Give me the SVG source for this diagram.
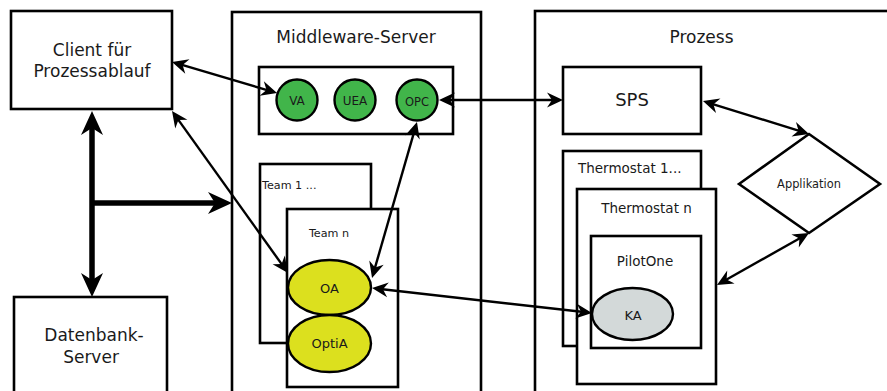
<svg xmlns="http://www.w3.org/2000/svg" width="887" height="391" viewBox="0 0 887 391">
  <style>
    .box { fill: #ffffff; stroke: #000000; stroke-width: 2.6; }
    .agent { fill: #41b54a; stroke: #000000; stroke-width: 2.4; }
    .team-agent { fill: #dce01e; stroke: #000000; stroke-width: 2.4; }
    .device-agent { fill: #d3d9d9; stroke: #000000; stroke-width: 2.4; }
    text { font-family: "DejaVu Sans", "Liberation Sans", sans-serif; fill: #1a1a1a; }
    .big { font-size: 17px; text-anchor: middle; }
    .mid { font-size: 13.5px; }
    .small { font-size: 11.2px; }
    .agent-label { font-size: 12px; text-anchor: middle; }
    .c { text-anchor: middle; }
    .link { fill: none; stroke: #000000; stroke-width: 2.4; }
    .bus { fill: none; stroke: #000000; stroke-width: 5.5; }
  </style>
  <defs>
    <marker id="head" markerUnits="userSpaceOnUse" viewBox="-20 -12 30 24" markerWidth="30" markerHeight="24" refX="0" refY="0" orient="auto-start-reverse">
      <path d="M 6 0 L -10 -7.5 L -5 0 L -10 7.5 Z" fill="#000000"/>
    </marker>
    <marker id="head-bold" markerUnits="userSpaceOnUse" viewBox="-20 -14 34 28" markerWidth="34" markerHeight="28" refX="0" refY="0" orient="auto-start-reverse">
      <path d="M 10 0 L -14 -11 L -7 0 L -14 11 Z" fill="#000000"/>
    </marker>
  </defs>

  <!-- client -->
  <g id="client">
    <rect class="box" x="11" y="11" width="161" height="98"/>
    <text class="big" x="92" y="56">Client für</text>
    <text class="big" x="92" y="77">Prozessablauf</text>
  </g>

  <!-- database server -->
  <g id="datenbank">
    <rect class="box" x="14" y="297" width="153" height="110"/>
    <text class="big" x="94" y="341">Datenbank-</text>
    <text class="big" x="91" y="363">Server</text>
  </g>

  <!-- middleware server -->
  <g id="middleware">
    <rect class="box" x="232" y="12" width="249" height="400"/>
    <text class="big" x="356" y="43">Middleware-Server</text>
  </g>

  <g id="agent-pool">
    <rect class="box" x="259" y="67" width="194" height="67"/>
  </g>
  <g id="va">
    <circle class="agent" cx="297" cy="100" r="20.5"/>
    <text class="agent-label" x="297" y="105">VA</text>
  </g>
  <g id="uea">
    <circle class="agent" cx="355" cy="100" r="20.5"/>
    <text class="agent-label" x="355" y="105">UEA</text>
  </g>
  <g id="opc">
    <circle class="agent" cx="417" cy="100" r="20.5"/>
    <text class="agent-label" x="417" y="106" style="font-size:11.5px">OPC</text>
  </g>

  <g id="team-1">
    <rect class="box" x="260" y="164" width="111" height="179"/>
    <text class="small" x="262" y="189">Team 1 ...</text>
  </g>
  <g id="team-n">
    <rect class="box" x="287" y="209" width="111" height="178"/>
    <text class="small c" x="329" y="237">Team n</text>
  </g>
  <g id="oa">
    <ellipse class="team-agent" cx="329.5" cy="287.5" rx="41.5" ry="27.5"/>
    <text class="c" x="329.5" y="293" style="font-size:13px">OA</text>
  </g>
  <g id="optia">
    <ellipse class="team-agent" cx="329.5" cy="343.5" rx="41.5" ry="28.5"/>
    <text class="c" x="329.5" y="348" style="font-size:13px">OptiA</text>
  </g>

  <!-- process side -->
  <g id="prozess">
    <rect class="box" x="535" y="11" width="400" height="400"/>
    <text class="big" x="701.5" y="43">Prozess</text>
  </g>
  <g id="sps">
    <rect class="box" x="563" y="67" width="138" height="67"/>
    <text class="c" x="632" y="106" style="font-size:18px">SPS</text>
  </g>
  <g id="thermostat-1">
    <rect class="box" x="563" y="151" width="138" height="195"/>
    <text class="mid" x="578" y="173">Thermostat 1...</text>
  </g>
  <g id="thermostat-n">
    <rect class="box" x="577" y="189" width="139" height="195"/>
    <text class="mid c" x="646.5" y="213">Thermostat n</text>
  </g>
  <g id="pilotone">
    <rect class="box" x="591" y="236" width="110" height="112"/>
    <text class="mid c" x="645" y="266">PilotOne</text>
  </g>
  <g id="ka">
    <ellipse class="device-agent" cx="632.5" cy="314" rx="40.5" ry="26"/>
    <text class="c" x="633" y="320" style="font-size:13px">KA</text>
  </g>
  <g id="applikation">
    <polygon class="box" points="739,184 809,134 880,184 809,233"/>
    <text class="small c" x="809" y="188" style="font-size:11.4px">Applikation</text>
  </g>

  <!-- connectors -->
  <g id="connectors">
    <line class="bus" x1="92" y1="121" x2="92" y2="287" marker-start="url(#head-bold)" marker-end="url(#head-bold)"/>
    <line class="bus" x1="92" y1="203" x2="222" y2="203" marker-end="url(#head-bold)"/>
    <line class="link" x1="177.8" y1="63.7" x2="271.3" y2="91.3" marker-start="url(#head)" marker-end="url(#head)"/>
    <line class="link" x1="175.5" y1="115.9" x2="284.5" y2="268.1" marker-start="url(#head)" marker-end="url(#head)"/>
    <line class="link" x1="445" y1="100" x2="557" y2="100" marker-start="url(#head)" marker-end="url(#head)"/>
    <line class="link" x1="415.3" y1="127.8" x2="373.7" y2="272.2" marker-start="url(#head)" marker-end="url(#head)"/>
    <line class="link" x1="378" y1="288.7" x2="586" y2="312.3" marker-start="url(#head)" marker-end="url(#head)"/>
    <line class="link" x1="708.7" y1="102.8" x2="803.3" y2="132.2" marker-start="url(#head)" marker-end="url(#head)"/>
    <line class="link" x1="803.8" y1="236" x2="722.2" y2="282" marker-start="url(#head)" marker-end="url(#head)"/>
  </g>
</svg>
